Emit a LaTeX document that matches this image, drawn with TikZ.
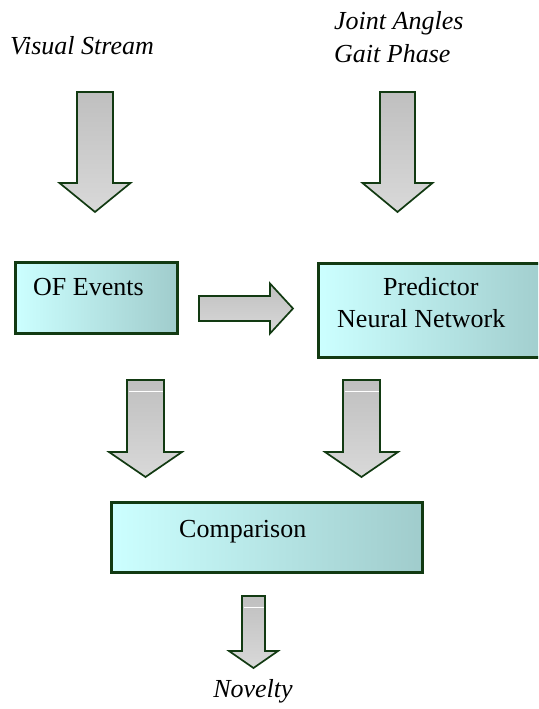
\documentclass[tikz,border=0pt]{standalone}
\usepackage{fontspec}
\setmainfont{Liberation Serif}
\usetikzlibrary{positioning}
\definecolor{edgegreen}{RGB}{18,58,18}
\definecolor{boxleft}{RGB}{204,255,255}
\definecolor{boxright}{RGB}{160,204,204}
\tikzset{
  box/.style={draw=edgegreen, line width=2.6pt, left color=boxleft, right color=boxright,
    anchor=north west, inner sep=0pt},
  boxtext/.style={font=\fontsize{26}{32}\selectfont, inner sep=0pt},
  streamtext/.style={font=\fontsize{26}{33}\selectfont\itshape, inner sep=0pt, align=left},
  pics/blockarrow/.style n args={5}{code={
    \shadedraw[top color=gray!50, bottom color=gray!30, draw=edgegreen, line width=1.7pt, line join=miter]
      (-#1,0) -- (#1,0) -- (#1,#3) -- (#2,#3) -- (0,#3+#4) -- (-#2,#3) -- (-#1,#3) -- cycle;
    \draw[draw=#5, line width=0.8pt] (-#1+1.5,11) -- (#1-1.5,11);
  }}
}

\begin{document}
\begin{tikzpicture}[x=1pt, y=-1pt]
    \useasboundingbox (0,0) rectangle (538,709);
    \clip (0,0) rectangle (538,709);

    % inputs
    \node[streamtext, anchor=base] (visual) at (82,55) {Visual Stream};
    \node[streamtext, anchor=north west] (joint) at (334,11) {Joint Angles\\Gait Phase};

    \pic (vis-arrow) at (95,92) {blockarrow={18}{35.5}{91}{29}{none}};
    \pic (joint-arrow) at (397.5,92) {blockarrow={17.5}{35}{91}{29}{none}};

    % processing boxes
    \node[box, minimum width=162, minimum height=71] (of) at (14,261) {};
    \node[boxtext, anchor=base west] (of-text) at (33,295) {OF Events};

    \node[box, minimum width=234, minimum height=94] (pred) at (317,262) {};
    \node[boxtext, anchor=base west, align=left] (pred-text) at (337,327)
      {\hspace*{46pt}Predictor\\Neural Network};

    \pic[rotate=90] (of-arrow) at (199,308.5) {blockarrow={12.5}{25}{71}{23}{none}};

    \pic (of-down) at (145.5,380) {blockarrow={18.5}{36.5}{72}{25}{white}};
    \pic (pred-down) at (361.5,380) {blockarrow={18.5}{36.5}{72}{25}{white}};

    % comparison and output
    \node[box, minimum width=311, minimum height=70] (comp) at (110,501) {};
    \node[boxtext, anchor=base west] (comp-text) at (179,537) {Comparison};

    \pic (comp-down) at (253.5,596) {blockarrow={11.5}{24.5}{55}{17}{white}};
    \node[streamtext, anchor=base] (novelty) at (253,697) {Novelty};
\end{tikzpicture}
\end{document}
